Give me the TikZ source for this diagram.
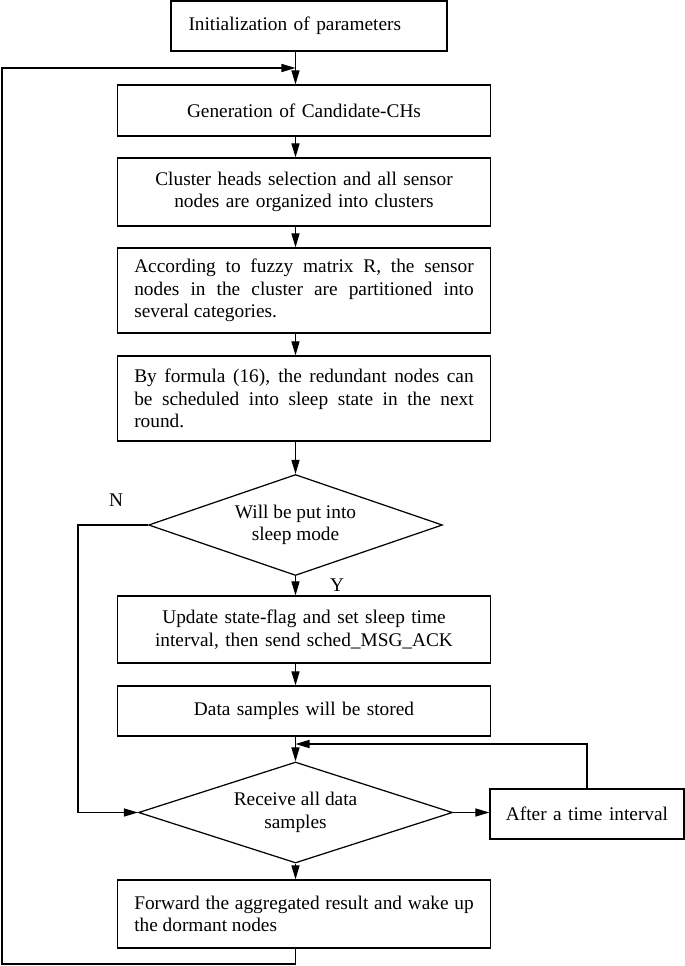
\documentclass[tikz,border=0pt]{standalone}
\usepackage{fontspec}
\setmainfont{Liberation Serif}
\usetikzlibrary{shapes.geometric,arrows.meta}

\tikzset{
	box/.style={draw, line width=0.7pt, text width=6.79cm, inner xsep=0.34cm, inner ysep=0pt, align=center},
	jbox/.style={box, align=justify},
	dec/.style={draw, line width=0.7pt, diamond, inner sep=0pt, align=center},
	arr/.style={line width=0.7pt, -{Triangle[length=8pt,width=4.6pt]}}
}

\begin{document}
\begin{tikzpicture}[x=0.02cm, y=-0.02cm, font=\fontsize{11}{12.9}\selectfont]
		\useasboundingbox (0,0) rectangle (685,966);
		\node[box, text width=4.82cm, inner xsep=0.35cm, align=left, minimum height=1.0cm] (init) at (309,26) {Initialization of parameters};
		\node[box, minimum height=1.02cm] (gen) at (304,110.5) {Generation of Candidate-CHs};
		\node[box, minimum height=1.36cm] (clus) at (304,192) {Cluster heads selection and all sensor\\ nodes are organized into clusters};
		\node[jbox, minimum height=1.7cm] (fuzzy) at (304,290.5) {According to fuzzy matrix R, the sensor\linebreak nodes in the cluster are partitioned into\linebreak several categories.};
		\node[jbox, minimum height=1.7cm] (form) at (304,398.5) {By formula (16), the redundant nodes can\linebreak be scheduled into sleep state in the next\linebreak round.};
		\node[dec, aspect=2.9, minimum width=5.88cm, minimum height=2.02cm] (d1) at (295.5,525) {Will be put into\\ sleep mode};
		\node[box, minimum height=1.34cm] (upd) at (304,629.5) {Update state-flag and set sleep time\\ interval, then send sched\_MSG\_ACK};
		\node[box, minimum height=1.0cm] (data) at (304,711) {Data samples will be stored};
		\node[dec, aspect=3.1, minimum width=6.28cm, minimum height=2.02cm] (d2) at (295.5,812.5) {Receive all data\\ samples};
		\node[box, text width=3.5cm, inner xsep=0.19cm, minimum height=1.0cm] (after) at (587,814) {After a time interval};
		\node[jbox, minimum height=1.36cm] (fwd) at (304,914) {Forward the aggregated result and wake up\linebreak the dormant nodes};
		\node (nlab) at (116,500) {N};
		\node (ylab) at (337,585) {Y};
		% bends of the loops
		\coordinate (top) at (295.5,68);
		\coordinate (mid) at (295.5,744);
		\coordinate (low) at (2,964);
		\coordinate (nx) at (78,812.5);
		\draw[arr] (init.south -| top) -- (gen.north -| top);
		\draw[arr] (gen.south -| top) -- (clus.north -| top);
		\draw[arr] (clus.south -| top) -- (fuzzy.north -| top);
		\draw[arr] (fuzzy.south -| top) -- (form.north -| top);
		\draw[arr] (form.south -| d1) -- (d1.north);
		\draw[arr] (d1.south) -- (upd.north -| d1);
		\draw[arr] (upd.south -| d1) -- (data.north -| d1);
		\draw[arr] (data.south -| d2) -- (d2.north);
		\draw[arr] (d2.south) -- (fwd.north -| d2);
		\draw[arr] (d2.east) -- (d2.east -| after.west);
		\draw[arr] (after.north) |- (mid);
		\draw[arr] (d1.west) -| (nx) -- (d2.west);
		\draw[arr] (fwd.south -| d2) |- (low) |- (top);
		\end{tikzpicture}
\end{document}
